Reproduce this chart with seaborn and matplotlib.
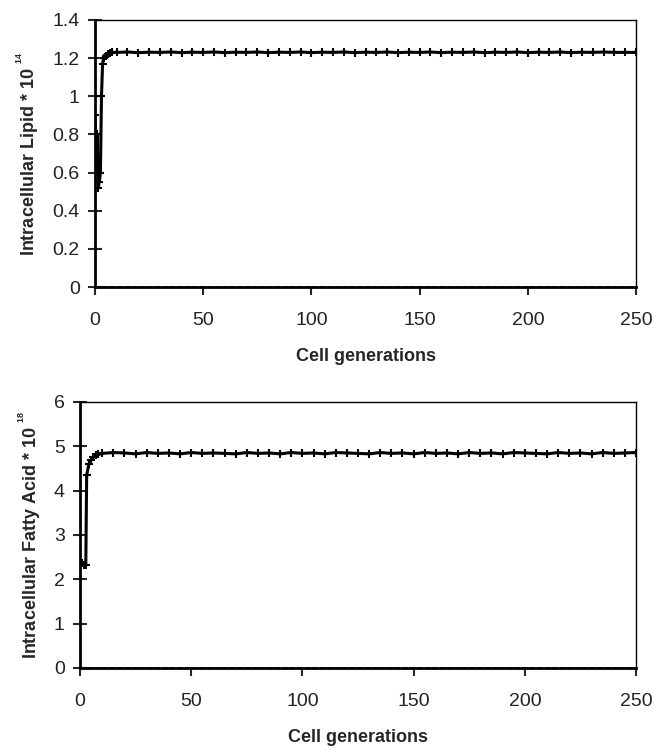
import matplotlib
matplotlib.use('Agg')
import matplotlib.pyplot as plt
import seaborn as sns
import pandas as pd

# ─────────────────────────────────────────
# Data
# ─────────────────────────────────────────
late_gen = [10, 15, 20, 25, 30, 35, 40, 45, 50, 55, 60, 65, 70, 75, 80, 85, 90, 95,
            100, 105, 110, 115, 120, 125, 130, 135, 140, 145, 150, 155, 160, 165, 170,
            175, 180, 185, 190, 195, 200, 205, 210, 215, 220, 225, 230, 235, 240, 245, 250]

lipid_gen = [0, 0.5, 1, 1.5, 2, 2.5, 3, 3.5, 4, 5, 6, 7, 8] + late_gen
lipid_val = [0.90, 0.63, 0.80, 0.52, 0.55, 0.60, 1.00, 1.17, 1.20, 1.21, 1.22, 1.225, 1.23,
             1.23, 1.232, 1.229, 1.231, 1.23, 1.232, 1.229, 1.231, 1.23, 1.232, 1.229,
             1.231, 1.23, 1.232, 1.229, 1.231, 1.23, 1.232, 1.229, 1.231, 1.23, 1.232,
             1.229, 1.231, 1.23, 1.232, 1.229, 1.231, 1.23, 1.232, 1.229, 1.231, 1.23,
             1.232, 1.229, 1.231, 1.23, 1.232, 1.229, 1.231, 1.23, 1.232, 1.229, 1.231,
             1.23, 1.232, 1.23, 1.23, 1.23]

fatty_gen = [0, 1, 2, 2.6, 3, 4, 5, 6, 7, 8] + late_gen
fatty_val = [2.40, 2.36, 2.33, 2.33, 4.35, 4.60, 4.70, 4.75, 4.80, 4.82,
             4.84, 4.86, 4.85, 4.83, 4.86, 4.84, 4.85, 4.83, 4.86, 4.84,
             4.85, 4.84, 4.83, 4.86, 4.84, 4.85, 4.83, 4.86, 4.84, 4.85,
             4.83, 4.86, 4.85, 4.84, 4.83, 4.86, 4.84, 4.85, 4.83, 4.86,
             4.84, 4.85, 4.83, 4.86, 4.84, 4.85, 4.83, 4.86, 4.85, 4.84,
             4.83, 4.86, 4.84, 4.85, 4.83, 4.86, 4.84, 4.85, 4.86]

x_ticks = [0, 50, 100, 150, 200, 250]
lipid_ticks = [0, 0.2, 0.4, 0.6, 0.8, 1, 1.2, 1.4]
lipid_ticklabels = ['0', '0.2', '0.4', '0.6', '0.8', '1', '1.2', '1.4']
fatty_ticks = [0, 1, 2, 3, 4, 5, 6]

df_lipid = pd.DataFrame({'gen': lipid_gen, 'val': lipid_val})
df_fatty = pd.DataFrame({'gen': fatty_gen, 'val': fatty_val})

sns.set_style("white")
plt.rcParams['font.family'] = ['Liberation Sans', 'DejaVu Sans']
plt.rcParams['mathtext.fontset'] = 'custom'
plt.rcParams['mathtext.rm'] = 'Liberation Sans:bold'
plt.rcParams['mathtext.bf'] = 'Liberation Sans:bold'

fig = plt.figure(figsize=(6.52, 7.48), dpi=100)
ax1 = fig.add_axes([0.1457, 0.6163, 0.8298, 0.3570])
ax2 = fig.add_axes([0.1227, 0.1070, 0.8528, 0.3556])


def style_axis(ax, df, yticks, yticklabels, ylim, ylabel):
    sns.lineplot(data=df, x='gen', y='val', ax=ax, color='black', linewidth=2.2,
                 marker='+', markersize=6, markeredgewidth=1.5,
                 markeredgecolor='black', markerfacecolor='black')
    ax.axhline(0, color='black', lw=1.2, ls=(0, (3, 1.5)), zorder=1)
    ax.set_xlim(0, 250)
    ax.set_ylim(*ylim)
    ax.set_xticks(x_ticks)
    ax.set_yticks(yticks)
    ax.set_yticklabels(yticklabels)
    for side in ['top', 'right']:
        ax.spines[side].set_linewidth(1.0)
        ax.spines[side].set_color('black')
    for side in ['left', 'bottom']:
        ax.spines[side].set_linewidth(2.0)
        ax.spines[side].set_color('black')
    ax.tick_params(axis='y', direction='inout', length=10, width=1.5,
                   labelsize=14, pad=6, left=True, labelcolor='#222222')
    ax.tick_params(axis='x', direction='out', length=6, width=1.5,
                   labelsize=14, pad=12, bottom=True, labelcolor='#222222')
    ax.set_xlabel('Cell generations', fontsize=13, fontweight='bold', labelpad=14)
    ax.set_ylabel(ylabel, fontsize=13, fontweight='bold', labelpad=8)


style_axis(ax1, df_lipid, lipid_ticks, lipid_ticklabels, (0, 1.4),
           r'Intracellular Lipid * 10 $^{^{14}}$')
style_axis(ax2, df_fatty, fatty_ticks, [str(t) for t in fatty_ticks], (0, 6),
           r'Intracellular Fatty Acid * 10 $^{^{18}}$')

plt.savefig('out.png', dpi=100)
